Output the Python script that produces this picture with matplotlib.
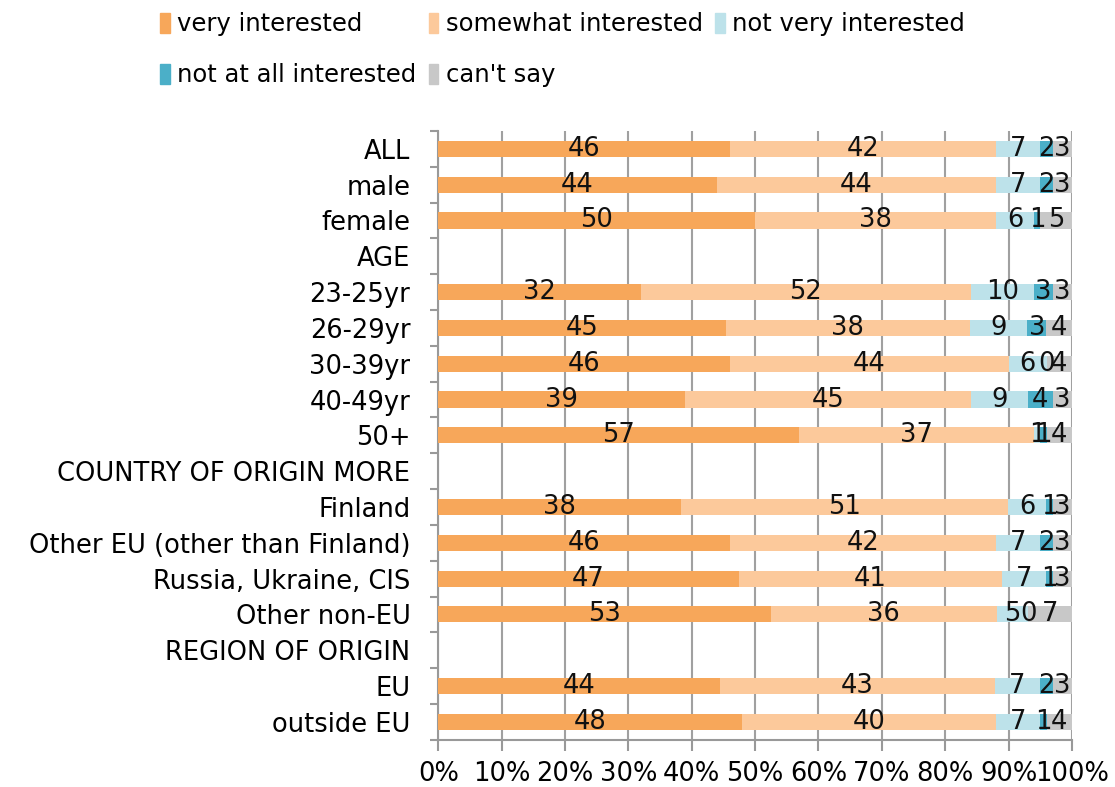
import numpy as np
import matplotlib.pyplot as plt
from matplotlib.patches import Patch

nan = np.nan

categories = ["ALL", "male", "female", "AGE", "23-25yr", "26-29yr", "30-39yr",
              "40-49yr", "50+", "COUNTRY OF ORIGIN MORE", "Finland",
              "Other EU (other than Finland)", "Russia, Ukraine, CIS",
              "Other non-EU", "REGION OF ORIGIN", "EU", "outside EU"]

series_names = ["very interested", "somewhat interested", "not very interested",
                "not at all interested", "can't say"]

very = [46, 44, 50, nan, 32, 45, 46, 39, 57, nan, 38, 46, 47, 53, nan, 44, 48]
somewhat = [42, 44, 38, nan, 52, 38, 44, 45, 37, nan, 51, 42, 41, 36, nan, 43, 40]
not_very = [7, 7, 6, nan, 10, 9, 6, 9, 1, nan, 6, 7, 7, 5, nan, 7, 7]
not_at_all = [2, 2, 1, nan, 3, 3, 0, 4, 1, nan, 1, 2, 1, 0, nan, 2, 1]
cant_say = [3, 3, 5, nan, 3, 4, 4, 3, 4, nan, 3, 3, 3, 7, nan, 3, 4]

colors = ["#F7A75A", "#FCC99B", "#BDE2EA", "#4BAFC8", "#C8C8C8"]

plt.rcParams['font.family'] = ['DejaVu Sans']
fs = 18.5
fig = plt.figure(figsize=(11.15, 7.87), dpi=100)
ax = fig.add_axes([0.393, 0.06, 0.5684, 0.7736])

data = np.array([very, somewhat, not_very, not_at_all, cant_say], dtype=float)
totals = np.nansum(data, axis=0)
totals[totals == 0] = 1
shares = data / totals

y = np.arange(len(categories))
left = np.zeros(len(categories))
for i in range(5):
    vals = np.nan_to_num(shares[i])
    ax.barh(y, vals, left=left, height=0.45, color=colors[i], zorder=3)
    for j in range(len(categories)):
        if not np.isnan(data[i, j]):
            ax.text(left[j] + vals[j] / 2, y[j], "%d" % data[i, j],
                    ha='center', va='center', fontsize=fs, color='#111111', zorder=4)
    left += vals

ax.set_ylim(len(categories) - 0.5, -0.5)
ax.set_xlim(0, 1)
ax.set_yticks(y)
ax.set_yticklabels(categories, fontsize=fs)
ax.set_yticks(np.arange(-0.5, len(categories)), minor=True)
ax.tick_params(axis='y', which='major', length=0, pad=20)
ax.tick_params(axis='y', which='minor', length=6, color='#999999', width=1.5)
ax.set_xticks(np.arange(0, 1.01, 0.1))
ax.set_xticklabels(["%d%%" % v for v in range(0, 101, 10)], fontsize=fs)
ax.tick_params(axis='x', length=8, color='#999999', width=1.5, pad=7)
ax.grid(axis='x', color='#A0A0A0', linewidth=1.5, zorder=0)
for s in ['top', 'right']:
    ax.spines[s].set_visible(False)
for s in ['left', 'bottom']:
    ax.spines[s].set_color('#999999')
    ax.spines[s].set_linewidth(1.5)

# legend fills column by column, so reorder to get row-wise layout
order = [0, 3, 1, 4, 2]
handles = [Patch(color=colors[k]) for k in order]
labels = [series_names[k] for k in order]
fig.legend(handles, labels, loc='upper left', bbox_to_anchor=(0.124, 1.012),
           ncol=3, frameon=False, fontsize=17.5, handlelength=0.4, handleheight=0.9,
           handletextpad=0.3, columnspacing=0.5, labelspacing=1.1)

fig.savefig("out.png", dpi=100)
